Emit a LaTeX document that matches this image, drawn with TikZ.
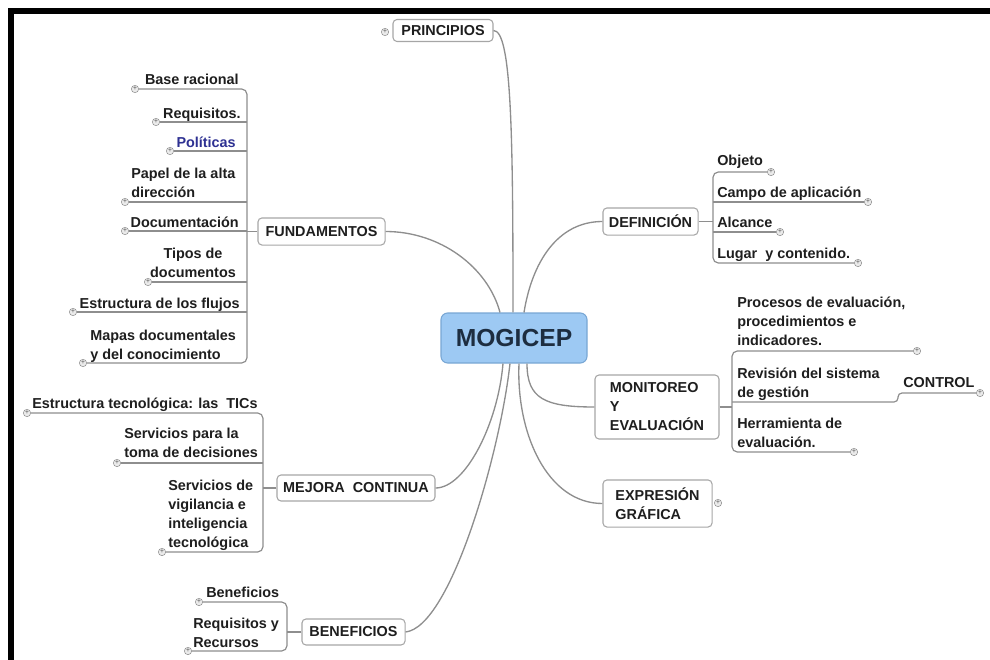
\documentclass[tikz,border=0pt]{standalone}
\usepackage{fontspec}
\setmainfont{Liberation Sans}
\definecolor{lnk}{HTML}{8E8E8E}
\definecolor{bxd}{HTML}{A6A6A6}
\definecolor{ink}{HTML}{1E1E1E}
\definecolor{pol}{HTML}{2E3192}
\definecolor{mgf}{HTML}{9DC9F3}
\definecolor{mgd}{HTML}{78A6D4}
\definecolor{mgt}{HTML}{1D2D40}
\newcommand{\lfont}{\fontsize{10.8pt}{14.25pt}\selectfont\bfseries}
\tikzset{
  mg/.style={draw=mgd, fill=mgf, rounded corners=5pt, line width=0.8pt,
             minimum width=109.5pt, minimum height=37.5pt, text=mgt,
             font=\fontsize{18.5pt}{20pt}\selectfont\bfseries},
  tp/.style={draw=bxd, fill=white, rounded corners=3pt, line width=0.8pt,
             inner sep=2pt, text=ink, font=\lfont},                % topic box
  lf/.style={inner sep=0pt, text=ink, font=\lfont},                % leaf text
  plus/.style={circle, draw=black!45, fill=black!8, minimum size=5.5pt,
               inner sep=0pt, text=black!70, font=\fontsize{5pt}{5pt}\selectfont},
  br/.style={draw=lnk, line width=0.9pt},                          % branch line
  cn/.style={draw=lnk, line width=1pt},                            % main connector
}
\begin{document}
\begin{tikzpicture}[x=0.75pt, y=-0.75pt]
  \useasboundingbox (0,0) rectangle (990,660);
  \fill[black] (8,8) rectangle (990,14);
  \fill[black] (8,8) rectangle (14,660);

  % centre and main topics
  \node[mg] (mg) at (514,338) {MOGICEP};
  \node[tp, minimum width=75pt, minimum height=16.5pt] (pr) at (443,30.5) {PRINCIPIOS};
  \node[tp, minimum width=95.3pt, minimum height=20.3pt] (fd) at (321.5,231.5) {FUNDAMENTOS};
  \node[tp, minimum width=118.5pt, minimum height=19.5pt] (mj) at (356,488) {MEJORA\ \ CONTINUA};
  \node[tp, minimum width=77.3pt, minimum height=19.5pt] (bf) at (353.5,632) {BENEFICIOS};
  \node[tp, minimum width=71.3pt, minimum height=20.3pt] (df) at (650.5,221.5) {DEFINICIÓN};
  \node[tp, align=left, minimum width=93pt, minimum height=48pt] (mo) at (657,407) {MONITOREO\\Y\\EVALUACIÓN};
  \node[tp, align=left, minimum width=81.8pt, minimum height=35.3pt] (ex) at (657.5,503.5) {EXPRESIÓN\\GRÁFICA};
  \node[plus] (pp) at (385,32) {+};
  \node[plus] (pe) at (718,503) {+};

  \draw[cn] (pr.east) .. controls +(18,0) and +(0,-180) .. ([xshift=-0.75pt]mg.north);
  \draw[cn] (fd.east) .. controls +(55,0) and +(-12,-45) .. ([xshift=-10.5pt]mg.north);
  \draw[cn] (df.west) .. controls +(-45,0) and +(8,-50) .. ([xshift=7.5pt]mg.north);
  \draw[cn] (mj.east) .. controls +(30,0) and +(-5,60) .. ([xshift=-8.25pt]mg.south);
  \draw[cn] (bf.east) .. controls +(45,-5) and +(-10,90) .. ([xshift=-3pt]mg.south);
  \draw[cn] (ex.west) .. controls +(-55,0) and +(-3,70) .. ([xshift=3.75pt]mg.south);
  \draw[cn] (mo.west) .. controls +(-50,0) and +(0,35) .. ([xshift=9.75pt]mg.south);

  % FUNDAMENTOS (multi-line leaves sit on their last line)
  \coordinate (ft) at (247,0);
  \node[lf, anchor=base east] (f1) at (239,85) {Base racional};
  \node[lf, anchor=base east] (f2) at (241,118) {Requisitos.};
  \node[lf, anchor=base east, text=pol] (f3) at (236,147) {Políticas};
  \node[lf, anchor=base west, align=left] (f4) at (131,197) {Papel de la alta\\dirección};
  \node[lf, anchor=base east] (f5) at (239,227) {Documentación};
  \node[lf, anchor=base, align=center] (f6) at (193,277) {Tipos de\\documentos};
  \node[lf, anchor=base east] (f7) at (240,308) {Estructura de los flujos};
  \node[lf, anchor=base west, align=left] (f8) at (90,359) {Mapas documentales\\y del conocimiento};
  \foreach \n/\x/\y in {1/135/89, 2/156/122, 3/170/151, 4/125/202,
                        5/125/231, 6/148/282, 7/73/312, 8/83/363}
    \node[plus] (pf\n) at (\x,\y) {+};
  \draw[br, rounded corners=4pt] (pf1.east) -- (pf1.east -| ft) -- (pf8.east -| ft) -- (pf8.east);
  \foreach \n in {2,...,7}
    \draw[br] (pf\n.east) -- (pf\n.east -| ft);
  \draw[br] (fd.west) -- (fd.west -| ft);

  % MEJORA CONTINUA
  \coordinate (mt) at (263,0);
  \node[lf, anchor=base west] (m1) at (32,408) {Estructura tecnológica: las\ \ TICs};
  \node[lf, anchor=base west, align=left] (m2) at (124,457) {Servicios para la\\toma de decisiones};
  \node[lf, anchor=base west, align=left] (m3) at (168,547) {Servicios de\\vigilancia e\\inteligencia\\tecnológica};
  \foreach \n/\x/\y in {1/27/413, 2/117/463, 3/162/552}
    \node[plus] (pm\n) at (\x,\y) {+};
  \draw[br, rounded corners=4pt] (pm1.east) -- (pm1.east -| mt) -- (pm3.east -| mt) -- (pm3.east);
  \draw[br] (pm2.east) -- (pm2.east -| mt);
  \draw[br] (mj.west) -- (mj.west -| mt);

  % BENEFICIOS
  \coordinate (bt) at (287,0);
  \node[lf, anchor=base west] (b1) at (206,597) {Beneficios};
  \node[lf, anchor=base west, align=left] (b2) at (193,647) {Requisitos y\\Recursos};
  \node[plus] (pb1) at (199,602) {+};
  \node[plus] (pb2) at (188,651) {+};
  \draw[br, rounded corners=4pt] (pb1.east) -- (pb1.east -| bt) -- (pb2.east -| bt) -- (pb2.east);
  \draw[br] (bf.west) -- (bf.west -| bt);

  % DEFINICION
  \coordinate (dt) at (713,0);
  \node[lf, anchor=base west] (d1) at (717,166) {Objeto};
  \node[lf, anchor=base west] (d2) at (717,197) {Campo de aplicación};
  \node[lf, anchor=base west] (d3) at (717,227) {Alcance};
  \node[lf, anchor=base west] (d4) at (717,258) {Lugar\ \ y contenido.};
  \foreach \n/\x/\y in {1/771/172, 2/868/202, 3/780/232, 4/858/263}
    \node[plus] (pd\n) at (\x,\y) {+};
  \draw[br, rounded corners=4pt] (pd1.west) -- (pd1.west -| dt) -- (pd4.west -| dt) -- (pd4.west);
  \foreach \n in {2,3}
    \draw[br] (pd\n.west) -- (pd\n.west -| dt);
  \draw[br] (df.east) -- (df.east -| dt);

  % MONITOREO Y EVALUACION
  \coordinate (vt) at (732,0);
  \coordinate (rv) at (898,402);
  \node[lf, anchor=base west, align=left] (v1) at (737,345) {Procesos de evaluación,\\procedimientos e\\indicadores.};
  \node[lf, anchor=base west, align=left] (v2) at (737,397) {Revisión del sistema\\de gestión};
  \node[lf, anchor=base west, align=left] (v3) at (737,447) {Herramienta de\\evaluación.};
  \node[lf, anchor=base west] (ct) at (903,387) {CONTROL};
  \node[plus] (pv1) at (917,351) {+};
  \node[plus] (pv3) at (854,452) {+};
  \node[plus] (pct) at (980,393) {+};
  \draw[br, rounded corners=4pt] (pv1.west) -- (pv1.west -| vt) -- (pv3.west -| vt) -- (pv3.west);
  \draw[br, rounded corners=3pt] (pct.west) -- (pct.west -| rv) -- (rv) -- (rv -| vt);
  \draw[br] (mo.east) -- (mo.east -| vt);
\end{tikzpicture}
\end{document}
